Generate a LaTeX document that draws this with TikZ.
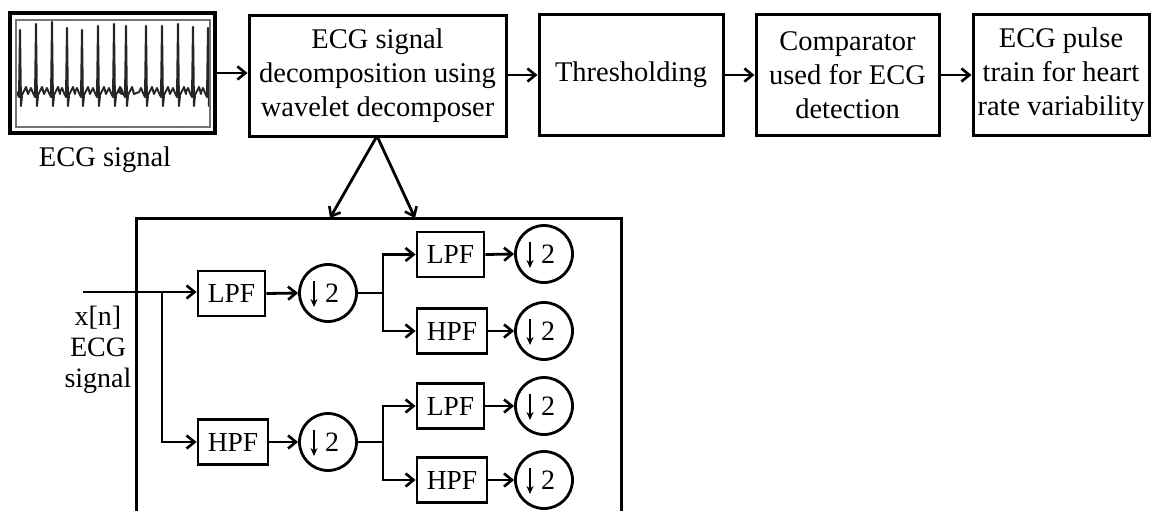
\documentclass[tikz,border=0pt]{standalone}
\usepackage{fontspec}
\setmainfont{Liberation Serif}
\usetikzlibrary{arrows.meta}
\begin{document}
\begin{tikzpicture}[x=1pt,y=-1pt,
  arr/.style={line width=2.8pt,-{Straight Barb[length=8pt,width=13pt,line width=2.6pt]}},
  ln/.style={line width=2.8pt},
  bigbox/.style={draw,line width=3pt,inner sep=0pt,align=center,font=\fontsize{28.5pt}{34pt}\selectfont},
  fbox/.style={draw,line width=2.8pt,inner sep=0pt,minimum height=45pt,font=\fontsize{27.5pt}{32pt}\selectfont},
  dcirc/.style={draw,circle,line width=2.8pt,inner sep=0pt,minimum size=57pt,font=\fontsize{28pt}{32pt}\selectfont,
    path picture={\draw[line width=2pt,-{Stealth[length=8pt,width=7pt]}]
      ([xshift=-14pt,yshift=12pt]path picture bounding box.center) -- ++(0pt,-26pt);}}]
\useasboundingbox (0,0) rectangle (1151,511);

% ECG image
\node[draw,line width=3.2pt,minimum width=205pt,minimum height=120pt,inner sep=0pt] (img) at (112.5,73) {};
\draw[line width=1.8pt,black!55] (16,20) rectangle (210,127);
\foreach \tx in {68,123,177}{
  \fill[black!60] (\tx,20) circle (1pt);
  \fill[black!60] (\tx,127) circle (1pt);
}
\begin{scope}
\clip (17,21) rectangle (209,126);
\draw[line width=2pt,line join=round,black!85] (10,93)
  \foreach \x/\t in {20/30,36/24,52/22,67/28,82/30,98/26,114/24,126/26,146/26,162/26,178/24,193/27,208/28}{
    -- ({\x-7},92) -- ({\x-5},88) -- ({\x-3},93) -- ({\x-1},97) -- (\x,\t) -- ({\x+1},106) -- ({\x+2},95) -- ({\x+4},91) -- ({\x+6},87) -- ({\x+8},94)
  };
\end{scope}
\node[font=\fontsize{28.5pt}{34pt}\selectfont] (lab) at (105,160) {ECG signal};

% top row
\node[bigbox,minimum width=257pt,minimum height=120pt] (dec) at (377.5,76) {ECG signal\\decomposition using\\wavelet decomposer};
\node[bigbox,minimum width=184pt,minimum height=120pt] (thr) at (631,75) {Thresholding};
\node[bigbox,minimum width=183pt,minimum height=120pt] (cmp) at (847.5,75) {Comparator\\used for ECG\\detection};
\node[bigbox,minimum width=176pt,minimum height=120pt] (hrv) at (1061,75) {ECG pulse\\train for heart\\rate variability};

\draw[arr] (img.east) -- (dec.west |- img.east);
\draw[arr] (dec.east |- thr.west) -- (thr.west);
\draw[arr] (thr.east) -- (cmp.west);
\draw[arr] (cmp.east) -- (hrv.west);

\coordinate (t1) at (330,218);
\coordinate (t2) at (415,218);
\draw[arr] (377,136) -- (t1);
\draw[arr] (377,136) -- (t2);

% lower box
\draw[line width=3pt] (136,515) -- (136,218) -- (621,218) -- (621,515);

\node[align=center,font=\fontsize{28pt}{31pt}\selectfont] (xn) at (98,350) {x[n]\\ECG\\signal};

\coordinate (in) at (83,292);
\coordinate (b1) at (162,292);
\node[fbox,minimum width=67pt] (lpf1) at (231.5,293.5) {LPF};
\node[fbox,minimum width=70pt] (hpf1) at (233,442) {HPF};
\node[dcirc] (c1) at (328,293) {\makebox[0pt][l]{\hspace{-3pt}2}};
\node[dcirc] (c2) at (328,442) {\makebox[0pt][l]{\hspace{-3pt}2}};
\coordinate (s1) at (383,293);
\coordinate (s2) at (383,442);
\node[fbox,minimum width=67pt] (lpf2) at (450.5,254.5) {LPF};
\node[fbox,minimum width=70pt] (hpf2) at (452,331) {HPF};
\node[fbox,minimum width=67pt] (lpf3) at (450.5,406) {LPF};
\node[fbox,minimum width=70pt] (hpf3) at (452,480) {HPF};
\node[dcirc] (c3) at (544,254) {\makebox[0pt][l]{\hspace{-3pt}2}};
\node[dcirc] (c4) at (544,331) {\makebox[0pt][l]{\hspace{-3pt}2}};
\node[dcirc] (c5) at (544,406) {\makebox[0pt][l]{\hspace{-3pt}2}};
\node[dcirc] (c6) at (544,480) {\makebox[0pt][l]{\hspace{-3pt}2}};

\draw[arr] (in) -- (lpf1.west |- in);
\draw[arr] (b1) -- (b1 |- hpf1.west) -- (hpf1.west);
\draw[arr] (lpf1.east) -- (c1.west);
\draw[arr] (hpf1.east) -- (c2.west);
\draw[ln] (c1.east) -- (s1);
\draw[ln] (c2.east) -- (s2);
\draw[arr] (s1) -- (s1 |- lpf2.west) -- (lpf2.west);
\draw[arr] (s1) -- (s1 |- hpf2.west) -- (hpf2.west);
\draw[arr] (s2) -- (s2 |- lpf3.west) -- (lpf3.west);
\draw[arr] (s2) -- (s2 |- hpf3.west) -- (hpf3.west);
\draw[arr] (lpf2.east) -- (c3.west);
\draw[arr] (hpf2.east) -- (c4.west);
\draw[arr] (lpf3.east) -- (c5.west);
\draw[arr] (hpf3.east) -- (c6.west);
\end{tikzpicture}
\end{document}
